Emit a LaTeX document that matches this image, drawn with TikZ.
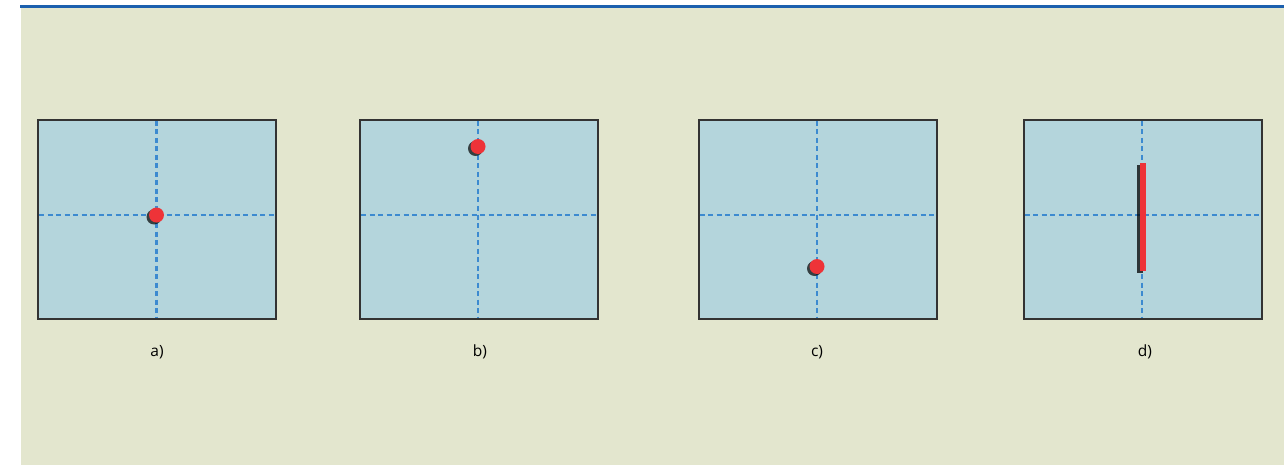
\documentclass[tikz,border=0pt]{standalone}
\usepackage{fontspec}
\setmainfont{Open Sans}
\definecolor{bg}{HTML}{E3E6CE}
\definecolor{topline}{HTML}{1C60AE}
\definecolor{panel}{HTML}{B4D5DC}
\definecolor{dashblue}{HTML}{3C8AD0}
\definecolor{frame}{HTML}{333333}
\definecolor{dotred}{HTML}{EE3338}
\tikzset{
  panelbox/.style={fill=panel, draw=frame, line width=2pt},
  guide/.style={dashblue, line width=2.2pt, dash pattern=on 5pt off 3.5pt},
  reddot/.style={circle, fill=dotred, minimum size=15pt, inner sep=0pt},
  dotshadow/.style={circle, fill=black, fill opacity=0.7, minimum size=15pt, inner sep=0pt},
  lbl/.style={font=\fontsize{15.5pt}{18pt}\selectfont, text=black, inner sep=0pt}
}
\begin{document}
\begin{tikzpicture}[x=1pt,y=-1pt]
\useasboundingbox (0,0) rectangle (1287,465);
\fill[bg] (21,8) rectangle (1284,465);
\draw[topline, line width=3.5pt] (20,6.5) -- (1284,6.5);
% panels
\foreach \n/\xl/\xc in {A/38/156.5, B/360/478, C/698.5/817, D/1023.5/1142}{
  \draw[panelbox] (\xl,120) rectangle ++(238,199);
  \draw[guide] (\xl+1,215) -- (\xl+237,215);
  \draw[guide] (\xc,121) -- (\xc,318);
}
% dots
\node[dotshadow] (sa) at (154,217) {};
\node[reddot] (da) at (156.5,215) {};
\node[dotshadow] (sb) at (475.5,148.5) {};
\node[reddot] (db) at (478,146.5) {};
\node[dotshadow] (sc) at (814.5,268.5) {};
\node[reddot] (dc) at (817,266.5) {};
% bar
\fill[black, opacity=0.75] (1137,165) rectangle (1143,273);
\fill[dotred] (1139.5,163) rectangle (1146,271);
% labels
\node[lbl] (la) at (157,352) {a)};
\node[lbl] (lb) at (480,352) {b)};
\node[lbl] (lc) at (817,352) {c)};
\node[lbl] (ld) at (1145,352) {d)};
\end{tikzpicture}
\end{document}
